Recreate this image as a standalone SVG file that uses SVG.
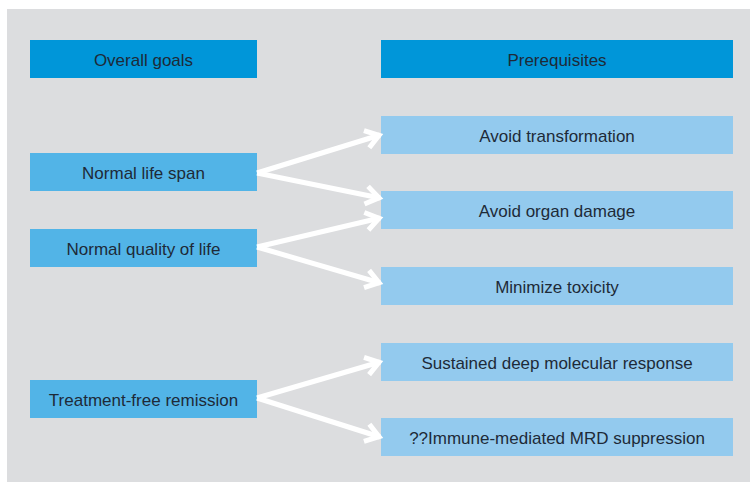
<svg xmlns="http://www.w3.org/2000/svg" width="750" height="482" viewBox="0 0 750 482">
<defs>
<style>
.bg{fill:#dcdddf}
.hdr{fill:#0096d9}
.goal{fill:#52b4e7}
.pre{fill:#93caee}
.t{font-family:"Liberation Sans",Arial,sans-serif;font-size:17px;fill:#1e2a38;text-anchor:middle;dominant-baseline:central}
.conn{stroke:#ffffff;stroke-width:5;fill:none;marker-end:url(#chev)}
</style>
<marker id="chev" viewBox="-20 -14 24 28" markerUnits="userSpaceOnUse" markerWidth="24" markerHeight="28" refX="0" refY="0" orient="auto" overflow="visible">
<path d="M-14,-9 L-1,0 L-14,9" stroke="#ffffff" stroke-width="5" fill="none" stroke-linejoin="miter"/>
</marker>
</defs>
<rect class="bg" x="7" y="9" width="743" height="473"/>
<g id="hdr-goals"><rect class="hdr" x="30" y="40" width="227" height="38"/><text class="t" x="143.5" y="60">Overall goals</text></g>
<g id="hdr-prereq"><rect class="hdr" x="381" y="40" width="352" height="38"/><text class="t" x="557" y="60">Prerequisites</text></g>
<g id="goal-lifespan"><rect class="goal" x="30" y="153" width="227" height="38"/><text class="t" x="143.5" y="173">Normal life span</text></g>
<g id="goal-quality"><rect class="goal" x="30" y="229" width="227" height="38"/><text class="t" x="143.5" y="249">Normal quality of life</text></g>
<g id="goal-tfr"><rect class="goal" x="30" y="380" width="227" height="38"/><text class="t" x="143.5" y="400">Treatment-free remission</text></g>
<g id="pre-transform"><rect class="pre" x="381" y="116" width="352" height="38"/><text class="t" x="557" y="136">Avoid transformation</text></g>
<g id="pre-organ"><rect class="pre" x="381" y="191" width="352" height="38"/><text class="t" x="557" y="211">Avoid organ damage</text></g>
<g id="pre-toxicity"><rect class="pre" x="381" y="267" width="352" height="38"/><text class="t" x="557" y="287">Minimize toxicity</text></g>
<g id="pre-dmr"><rect class="pre" x="381" y="343" width="352" height="38"/><text class="t" x="557" y="363">Sustained deep molecular response</text></g>
<g id="pre-immune"><rect class="pre" x="381" y="418" width="352" height="38"/><text class="t" x="557" y="438">??Immune-mediated MRD suppression</text></g>
<g id="connectors">
<path class="conn" d="M257,173 L380,135"/>
<path class="conn" d="M257,173 L380,198"/>
<path class="conn" d="M257,247 L380,218"/>
<path class="conn" d="M257,247 L380,283"/>
<path class="conn" d="M257,398 L380,362"/>
<path class="conn" d="M257,398 L380,437"/>
</g>
</svg>
